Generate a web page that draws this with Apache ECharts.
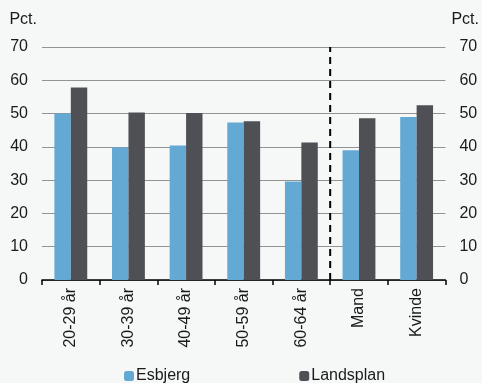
<!DOCTYPE html>
<html><head><meta charset="utf-8">
<script src="https://cdn.jsdelivr.net/npm/echarts@6/dist/echarts.min.js"></script>
<style>html,body{margin:0;padding:0;background:#f6f8f8}#c{width:482px;height:383px}</style>
</head><body><div id="c"></div>
<script>
var categories = ['20-29 år','30-39 år','40-49 år','50-59 år','60-64 år','Mand','Kvinde'];
var esbjerg = [50.0, 39.8, 40.4, 47.3, 29.6, 39.0, 49.0];
var landsplan = [57.8, 50.3, 50.2, 47.7, 41.3, 48.6, 52.5];
var dividerAt = 5; // boundary between age groups and gender (category units)
var yTicks = {min:0, max:70, interval:10};

var chart = echarts.init(document.getElementById('c'), null, {renderer:'canvas'});
var font = 'Liberation Sans, Arial, sans-serif';
var txt = '#1a1a1a';
var yCommon = {
  type:'value', min:yTicks.min, max:yTicks.max, interval:yTicks.interval,
  axisLine:{show:false}, axisTick:{show:false},
  axisLabel:{color:txt, fontSize:16, fontFamily:font, margin:14},
  nameLocation:'end', nameGap:19
};
chart.setOption({
  backgroundColor:'#f6f8f8',
  animation:false,
  grid:{left:42, right:35, top:47, bottom:103},
  legend:{
    left:119, top:363, itemWidth:10, itemHeight:10, itemGap:109,
    textStyle:{color:txt, fontSize:16, fontFamily:font, padding:[0,0,0,-3]},
    data:['Esbjerg','Landsplan']
  },
  xAxis:[{
    type:'category', data:categories,
    axisLine:{lineStyle:{color:'#000', width:1.5}},
    axisTick:{show:true, length:5, lineStyle:{color:'#000', width:1.5}},
    axisLabel:{rotate:90, color:txt, fontSize:16, fontFamily:font, margin:8}
  },{
    type:'value', min:0, max:categories.length, show:false
  }],
  yAxis:[
    Object.assign({}, yCommon, {position:'left', name:'Pct.',
      nameTextStyle:{color:txt, fontSize:16, fontFamily:font, align:'right', padding:[0,5,0,0]},
      splitLine:{lineStyle:{color:'#939393', width:1}}}),
    Object.assign({}, yCommon, {position:'right', name:'Pct.',
      nameTextStyle:{color:txt, fontSize:16, fontFamily:font, align:'left', padding:[0,0,0,6]},
      splitLine:{show:false}})
  ],
  series:[
    {name:'Esbjerg', type:'bar', data:esbjerg, barGap:'0%', barCategoryGap:'43%',
     itemStyle:{color:'#63a9d4'}},
    {name:'Landsplan', type:'bar', data:landsplan, barGap:'0%', barCategoryGap:'43%',
     itemStyle:{color:'#4f5055'}},
    {name:'divider', type:'line', xAxisIndex:1, yAxisIndex:0, symbol:'none',
     data:[[dividerAt, yTicks.min],[dividerAt, yTicks.max]],
     lineStyle:{color:'#000', width:2, type:[7,5]}, silent:true}
  ]
});
</script></body></html>
